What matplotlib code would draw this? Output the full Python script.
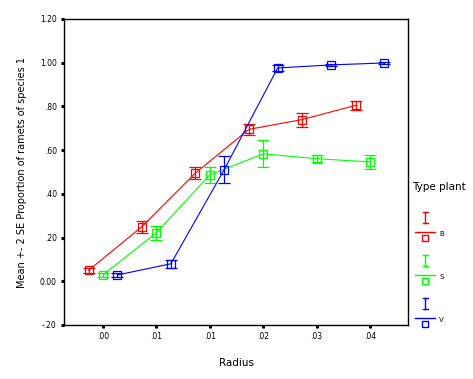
import numpy as np
import matplotlib
matplotlib.use("Agg")
import matplotlib.pyplot as plt
from matplotlib.lines import Line2D
from matplotlib.patches import Rectangle

# --- data --------------------------------------------------------------------
radius_labels = [".00", ".01", ".01", ".02", ".03", ".04"]
types = ["B", "S", "V"]
colors = ["#ff0000", "#00ff00", "#0000ff"]

mean_b = [0.05, 0.25, 0.495, 0.695, 0.74, 0.805]
err_b = [0.010, 0.027, 0.027, 0.024, 0.032, 0.020]
mean_s = [0.029, 0.222, 0.487, 0.583, 0.561, 0.546]
err_s = [0.008, 0.032, 0.038, 0.062, 0.015, 0.032]
mean_v = [0.029, 0.080, 0.511, 0.976, 0.990, 0.999]
err_v = [0.008, 0.018, 0.061, 0.012, 0.005, 0.004]

means = [mean_b, mean_s, mean_v]
errs = [err_b, err_s, err_v]
offsets = [-0.27, 0.0, 0.27]
# -----------------------------------------------------------------------------

fig = plt.figure(figsize=(4.73, 3.79), dpi=100)
ax = fig.add_axes([64 / 473, 1 - 325 / 379, 344 / 473, 306 / 379])

x = np.arange(len(radius_labels))
for m, e, c, off in zip(means, errs, colors, offsets):
    ax.errorbar(x + off, m, yerr=e, color=c, lw=0.8, elinewidth=0.9,
                capsize=4.5, capthick=0.9, marker="s", ms=5.8, mfc="none",
                mec=c, mew=0.9)

ax.set_xlim(-0.73, 5.71)
ax.set_ylim(-0.2, 1.2)
yt = np.arange(-0.2, 1.21, 0.2)
ax.set_yticks(yt)
ax.set_yticklabels(["-.20", "0.00", ".20", ".40", ".60", ".80", "1.00", "1.20"])
ax.set_xticks(x)
ax.set_xticklabels(radius_labels)
ax.tick_params(direction="out", length=2.2, width=2.2, labelsize=5.5, pad=3)
for s in ax.spines.values():
    s.set_linewidth(1.0)

ax.set_xlabel("Radius", fontsize=7.5, labelpad=12)
ax.set_ylabel("Mean +- 2 SE Proportion of ramets of species 1", fontsize=7, labelpad=9)

# legend drawn by hand to mimic the SPSS style
fig.text(412 / 473, 1 - 187 / 379, "Type plant", fontsize=7.5, va="center", ha="left")
leg_y = [212, 255, 298]
W, H = 473, 379
for c, t, y0 in zip(colors, types, leg_y):
    xc = 425
    fig.add_artist(Line2D([xc / W, xc / W], [1 - y0 / H, 1 - (y0 + 11) / H],
                          color=c, lw=1, transform=fig.transFigure))
    for yy in (y0, y0 + 11):
        fig.add_artist(Line2D([(xc - 2.5) / W, (xc + 2.5) / W], [1 - yy / H, 1 - yy / H],
                              color=c, lw=1, transform=fig.transFigure))
    fig.add_artist(Line2D([415 / W, 435 / W], [1 - (y0 + 20) / H, 1 - (y0 + 20) / H],
                          color=c, lw=1, transform=fig.transFigure))
    fig.add_artist(Rectangle(((xc - 3) / W, 1 - (y0 + 29) / H), 6 / W, 6 / H,
                             fill=False, ec=c, lw=1, transform=fig.transFigure))
    fig.text(439 / W, 1 - (y0 + 22) / H, t, fontsize=5, va="center", ha="left")

fig.savefig("out.png", dpi=100)
